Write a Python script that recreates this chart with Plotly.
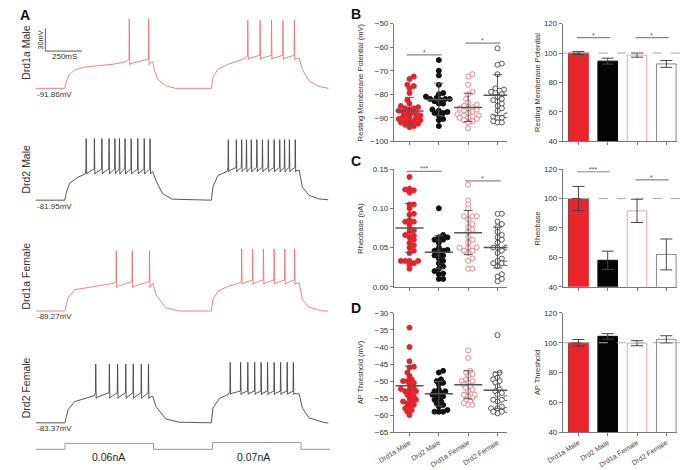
import plotly.graph_objects as go

W, H = 683, 470

def px_x(p):
    return p / W

def px_y(p):
    return 1 - p / H

FONT = "Liberation Sans, Arial, sans-serif"

# ---------------- panel A: current clamp traces (ms, mV) ----------------
trace_names = ["Drd1a Male", "Drd2 Male", "Drd1a Female", "Drd2 Female"]
trace_rmp = ["-91.86mV", "-81.95mV", "-89.27mV", "-83.37mV"]
trace_colors = ["#e8777b", "#454545", "#e8777b", "#454545"]

# Drd1a Male
d1m_knot_t = [0, 200, 211, 233, 267, 333, 533, 622, 800, 811, 833, 889, 956,
              1200, 1211, 1244, 1311, 1422, 1800, 1822, 1867, 1933, 2000]
d1m_knot_v = [-91.86, -91.86, -81.9, -73.2, -67.5, -63.6, -59.7, -56.2, -56.0, -67.0, -79.7, -88.4, -91.86,
              -91.86, -77.5, -66.7, -60.1, -52.8, -52.0, -67.0, -81.9, -89.2, -91.86]
d1m_spike_t = [640, 773, 1449, 1533, 1611, 1689, 1767]
d1m_peak = [0.5, -1.5]
d1m_thr = [-53.0, -48.0]
d1m_ahp = [-59.0, -52.0]

# Drd2 Male
d2m_knot_t = [0, 200, 211, 233, 289, 338, 800, 822, 867, 933,
              1200, 1211, 1244, 1307, 1800, 1822, 1867, 1933, 2000]
d2m_knot_v = [-81.95, -81.95, -71.1, -59.4, -51.5, -47.2, -44.0, -55.9, -73.3, -80.6,
              -81.95, -64.6, -49.3, -43.7, -42.0, -64.6, -75.4, -80.2, -81.5]
d2m_spike_t = [346, 402, 453, 502, 542, 573, 611, 653, 698, 742, 782,
               1316, 1371, 1407, 1440, 1473, 1511, 1549, 1589, 1629, 1667, 1700, 1733, 1773]
d2m_peak = [0.0, -1.5]
d2m_thr = [-40.6, -38.5]
d2m_ahp = [-45.8, -42.8]

# Drd1a Female
d1f_knot_t = [0, 200, 222, 267, 400, 533, 800, 822, 889, 978,
              1200, 1211, 1244, 1311, 1400, 1800, 1822, 1867, 1956, 2000]
d1f_knot_v = [-89.27, -89.27, -71.9, -61.0, -56.7, -52.4, -52.0, -67.5, -84.9, -89.27,
              -89.27, -74.1, -63.2, -56.7, -51.5, -52.0, -74.1, -84.1, -89.27, -89.27]
d1f_spike_t = [551, 660, 778, 1407, 1482, 1556, 1629, 1702, 1769]
d1f_peak = [-8.9, -6.7]
d1f_thr = [-50.2, -48.0]
d1f_ahp = [-56.7, -52.4]

# Drd2 Female
d2f_knot_t = [0, 200, 222, 267, 400, 800, 822, 889, 978,
              1200, 1211, 1256, 1316, 1800, 1822, 1867, 1978, 2000]
d2f_knot_v = [-83.37, -83.37, -66.0, -55.1, -47.3, -48.0, -61.6, -78.2, -82.5,
              -83.37, -63.8, -50.8, -45.6, -45.0, -63.8, -76.9, -83.37, -83.37]
d2f_spike_t = [411, 504, 560, 616, 667, 722, 771,
               1329, 1400, 1449, 1496, 1540, 1584, 1629, 1673, 1718, 1760]
d2f_peak = [-5.2, -3.0]
d2f_thr = [-43.4, -41.2]
d2f_ahp = [-49.5, -44.3]

# current command
cmd_t = [0, 200, 800, 1200, 1800, 2000]
cmd_i = [0, 0.06, 0, 0.07, 0, 0]
cmd_labels = ["0.06nA", "0.07nA"]

# ---------------- panels B-D ----------------
groups = ["Drd1a Male", "Drd2 Male", "Drd1a Female", "Drd2 Female"]

rmp_d1m = [-72.5, -73.5, -76.0, -76.5, -77.5, -79.5, -82.5, -84.0, -85.0, -85.5, -86.0, -86.0,
           -86.5, -87.0, -87.5, -88.0, -88.5, -89.0, -89.5, -90.0, -90.0, -90.5, -91.0, -91.0,
           -91.5, -92.0, -92.0, -92.5, -93.0, -93.5, -94.0, -88.0]
rmp_d2m = [-65.5, -70.0, -72.0, -76.0, -79.5, -80.0, -81.0, -81.5, -82.0, -82.0, -82.5, -83.0,
           -84.0, -84.0, -86.5, -87.0, -87.5, -88.0, -88.0, -89.0, -90.5, -91.0, -93.5, -82.0]
rmp_d1f = [-71.5, -72.5, -76.0, -79.0, -80.0, -82.0, -83.5, -84.5, -85.5, -86.0, -86.5, -87.0,
           -87.5, -88.0, -88.5, -89.0, -89.0, -89.5, -90.0, -90.0, -90.5, -91.0, -91.5, -92.0,
           -85.0, -86.0, -94.5]
rmp_d2f = [-60.5, -67.0, -67.5, -71.5, -77.5, -78.0, -78.5, -79.0, -79.5, -80.0, -81.0, -82.0,
           -82.5, -83.0, -84.0, -85.0, -86.0, -87.0, -89.0, -89.5, -90.0, -90.0, -91.5, -92.0, -92.0]
rmp_mean = [-87.1, -82.2, -85.6, -80.4]
rmp_sd = [5.8, 6.9, 6.0, 8.7]

rheo_d1m = [0.140, 0.124, 0.125, 0.120, 0.123, 0.105, 0.105, 0.100, 0.092, 0.093, 0.085, 0.083,
            0.083, 0.080, 0.075, 0.072, 0.070, 0.066, 0.065, 0.063, 0.060, 0.056, 0.053, 0.050,
            0.046, 0.043, 0.033, 0.033, 0.033, 0.033, 0.030, 0.023, 0.028]
rheo_d2m = [0.100, 0.066, 0.063, 0.063, 0.060, 0.060, 0.056, 0.050, 0.047, 0.046, 0.046, 0.043,
            0.040, 0.040, 0.036, 0.033, 0.030, 0.026, 0.023, 0.017, 0.016, 0.010, 0.010, 0.020]
rheo_d1f = [0.130, 0.110, 0.105, 0.100, 0.090, 0.090, 0.090, 0.086, 0.080, 0.076, 0.073, 0.070,
            0.063, 0.060, 0.056, 0.050, 0.050, 0.050, 0.046, 0.046, 0.043, 0.036, 0.033, 0.023, 0.023]
rheo_d2f = [0.093, 0.093, 0.083, 0.080, 0.076, 0.070, 0.066, 0.063, 0.060, 0.056, 0.050, 0.050,
            0.050, 0.046, 0.043, 0.036, 0.033, 0.030, 0.030, 0.030, 0.026, 0.016, 0.013, 0.010, 0.007]
rheo_mean = [0.075, 0.044, 0.069, 0.050]
rheo_sd = [0.031, 0.021, 0.028, 0.026]

apt_d1m = [-34.3, -40.0, -44.2, -45.8, -46.0, -47.5, -48.5, -49.5, -50.0, -50.5, -51.0, -52.0,
           -52.3, -52.5, -53.0, -53.5, -54.0, -54.5, -55.0, -55.5, -56.0, -56.0, -56.5, -57.0,
           -57.5, -58.0, -58.5, -59.0, -60.0, -50.0, -53.0]
apt_d2m = [-47.0, -47.5, -49.5, -50.0, -50.5, -51.0, -52.5, -53.0, -53.5, -54.0, -54.0, -54.5,
           -55.0, -55.5, -56.0, -56.5, -57.0, -57.5, -58.5, -59.0, -59.0, -59.0, -53.0]
apt_d1f = [-41.0, -43.2, -47.0, -47.5, -48.0, -48.5, -49.5, -50.0, -50.0, -50.5, -51.0, -51.5,
           -52.0, -52.5, -53.0, -54.0, -54.0, -54.5, -55.0, -55.5, -56.0, -57.0, -57.0, -56.5]
apt_d2f = [-36.5, -47.5, -48.0, -49.0, -49.5, -50.0, -50.5, -51.5, -52.5, -53.0, -53.5, -54.0,
           -55.0, -55.5, -56.0, -57.5, -58.0, -58.0, -58.5, -59.0, -59.5, -59.0, -55.5]
apt_mean = [-51.4, -53.7, -51.1, -52.7]
apt_sd = [5.8, 3.6, 4.1, 5.3]

# normalised bars (% of Drd1a Male)
rmp_pct = [100.0, 94.5, 98.6, 92.6]
rmp_pct_err = [1.0, 2.0, 1.4, 2.3]
rheo_pct = [100.0, 58.0, 91.6, 62.0]
rheo_pct_err = [8.2, 6.2, 7.9, 10.5]
apt_pct = [100.0, 104.3, 99.7, 102.3]
apt_pct_err = [2.2, 1.8, 1.7, 2.4]

# significance: (group a, group b, height, label)
sig_rmp = [(0, 1, -63.3, "*"), (2, 3, -58.3, "*")]
sig_rmp_pct = [(0, 1, 110.5, "*"), (2, 3, 110.5, "*")]
sig_rheo = [(0, 1, 0.147, "***"), (2, 3, 0.135, "*")]
sig_rheo_pct = [(0, 1, 118.2, "***"), (2, 3, 112.6, "*")]

pt_fill = ["#e3262c", "#111111", "white", "white"]
pt_line = ["#e3262c", "#111111", "#e8868c", "#555555"]
bar_fill = ["#e8252b", "#050505", "white", "white"]
bar_line = ["#b8282c", "#050505", "#e4a3a7", "#8a8a8a"]


def build_trace(knot_t, knot_v, spike_t, peak, thr, ahp):
    pts = list(zip(knot_t, knot_v))
    for s in spike_t:
        k = 0 if s < 1000 else 1
        pts += [(s - 2, thr[k]), (s, peak[k]), (s + 3, ahp[k] - 1.5), (s + 7, ahp[k])]
    pts.sort()
    return [p[0] for p in pts], [p[1] for p in pts]


def swarm(vals, px_per_unit, d=4.4, px_per_cat=30.0):
    # simple beeswarm offsets, like a GraphPad scatter dot plot
    placed = []
    offs = [0.0] * len(vals)
    order = sorted(range(len(vals)), key=lambda i: vals[i])
    for i in order:
        y = vals[i] * px_per_unit
        best = None
        k = 0
        while best is None:
            cands = [0.0] if k == 0 else [-k * d / 2, k * d / 2]
            if k % 2 == 0:
                cands = cands[::-1]
            for x in cands:
                if all((x - a) ** 2 + (y - b) ** 2 >= d * d * 0.8 for a, b in placed):
                    best = x
                    break
            k += 1
        placed.append((best, y))
        offs[i] = best / px_per_cat
    return offs


def note(px, py, text, size, angle=0, xanchor="center", color="#333"):
    return dict(x=px_x(px), y=px_y(py), xref="paper", yref="paper", text=text,
                textangle=angle, showarrow=False, xanchor=xanchor, yanchor="middle",
                font=dict(size=size, color=color))


fig = go.Figure()
layout_axes = {}
shapes = []
annotations = []

# ---- panel A ----
raw = [
    (d1m_knot_t, d1m_knot_v, d1m_spike_t, d1m_peak, d1m_thr, d1m_ahp),
    (d2m_knot_t, d2m_knot_v, d2m_spike_t, d2m_peak, d2m_thr, d2m_ahp),
    (d1f_knot_t, d1f_knot_v, d1f_spike_t, d1f_peak, d1f_thr, d1f_ahp),
    (d2f_knot_t, d2f_knot_v, d2f_spike_t, d2f_peak, d2f_thr, d2f_ahp),
]
base_rows = [86, 200, 313, 427]   # pixel row of each resting baseline
label_rows = [50, 168, 277, 391]
px_per_mv = 23 / 30.0
for i, r in enumerate(raw):
    n = i + 1
    t, v = build_trace(*r)
    base = r[1][0]
    top = base_rows[i] - (10 - base) * px_per_mv
    bot = base_rows[i] + (base + 100) * px_per_mv
    layout_axes["xaxis" if n == 1 else f"xaxis{n}"] = dict(
        domain=[px_x(20), px_x(320)], range=[0, 2000], visible=False, anchor=f"y{n}")
    layout_axes["yaxis" if n == 1 else f"yaxis{n}"] = dict(
        domain=[px_y(bot), px_y(top)], range=[-100, 10], visible=False, anchor=f"x{n}")
    fig.add_trace(go.Scatter(x=t, y=v, mode="lines", line=dict(color=trace_colors[i], width=0.9),
                             xaxis=f"x{n}", yaxis=f"y{n}", hoverinfo="skip"))
    annotations.append(note(10, label_rows[i], trace_names[i], 10.5, angle=-90))
    annotations.append(note(19, base_rows[i] + 6, trace_rmp[i], 8, xanchor="left"))

# scale bar (30 mV, 250 ms) in first trace axis
sb_t0, sb_v0 = 67, -42.3
shapes.append(dict(type="line", xref="x", yref="y", x0=sb_t0, x1=sb_t0, y0=sb_v0, y1=sb_v0 + 30,
                   line=dict(color="#555", width=1)))
shapes.append(dict(type="line", xref="x", yref="y", x0=sb_t0, x1=sb_t0 + 250, y0=sb_v0, y1=sb_v0,
                   line=dict(color="#555", width=1)))
annotations.append(note(25, 36, "30mV", 7.5, angle=-90))
annotations.append(note(50, 54, "250mS", 8))

# command trace
layout_axes["xaxis5"] = dict(domain=[px_x(20), px_x(322)], range=[0, 2000], visible=False, anchor="y5")
layout_axes["yaxis5"] = dict(domain=[px_y(455), px_y(445)], range=[-0.01, 0.09], visible=False, anchor="x5")
fig.add_trace(go.Scatter(x=cmd_t, y=cmd_i, mode="lines", line=dict(color="#999", width=1, shape="hv"),
                         xaxis="x5", yaxis="y5", hoverinfo="skip"))
for lab, cx in zip(cmd_labels, [95, 243]):
    annotations.append(note(cx, 462, lab, 10.5, color="#222"))

# ---- panels B-D ----
panel_rows = [(20, 140), (168.3, 288.3), (315, 436.5)]
scatter_sets = [
    ([rmp_d1m, rmp_d2m, rmp_d1f, rmp_d2f], rmp_mean, rmp_sd, [-100, -50],
     [-100, -90, -80, -70, -60, -50], None, "Resting Memberane Potential (mV)", sig_rmp),
    ([rheo_d1m, rheo_d2m, rheo_d1f, rheo_d2f], rheo_mean, rheo_sd, [0, 0.15],
     [0, 0.05, 0.10, 0.15], ".2f", "Rheobase (nA)", sig_rheo),
    ([apt_d1m, apt_d2m, apt_d1f, apt_d2f], apt_mean, apt_sd, [-65, -30],
     [-65, -60, -55, -50, -45, -40, -35, -30], None, "AP Threshold (mV)", []),
]
bar_sets = [
    (rmp_pct, rmp_pct_err, "Resting Memberane Potential", sig_rmp_pct),
    (rheo_pct, rheo_pct_err, "Rheobase", sig_rheo_pct),
    (apt_pct, apt_pct_err, "AP Threshold", []),
]
letters = ["B", "C", "D"]
letter_rows = [10, 160, 310]


def style_axes(n, xdom, ydom, yrange, tickvals, fmt, last_row, xmax):
    xa = dict(domain=xdom, range=[-0.53, xmax], anchor=f"y{n}", tickvals=[0, 1, 2, 3],
              ticktext=groups, showticklabels=last_row, tickangle=-32,
              tickfont=dict(size=7, color="#444", family=FONT),
              ticks="outside", ticklen=3, tickcolor="#777", showline=True, linecolor="#777",
              linewidth=1, showgrid=False, zeroline=False, fixedrange=True)
    ya = dict(domain=ydom, range=yrange, anchor=f"x{n}", tickvals=tickvals, tickformat=fmt,
              tickfont=dict(size=8, color="#333", family=FONT), ticks="outside", ticklen=3,
              tickcolor="#777", showline=True, linecolor="#777", linewidth=1, showgrid=False,
              zeroline=False, fixedrange=True)
    layout_axes[f"xaxis{n}"] = xa
    layout_axes[f"yaxis{n}"] = ya


for p in range(3):
    y0, y1 = panel_rows[p]
    ydom = [px_y(y1), px_y(y0)]
    last = p == 2
    # scatter dot plot
    n = 6 + 2 * p
    sets, means, sds, yr, tv, fmt, title, sigs = scatter_sets[p]
    style_axes(n, [px_x(387), px_x(503)], ydom, yr, tv, fmt, last, 3.33)
    ppu = (y1 - y0) / (yr[1] - yr[0])
    for g, vals in enumerate(sets):
        offs = swarm(vals, ppu)
        fig.add_trace(go.Scatter(
            x=[g + o for o in offs], y=vals, mode="markers",
            marker=dict(size=5, color=pt_fill[g], line=dict(color=pt_line[g], width=1)),
            xaxis=f"x{n}", yaxis=f"y{n}", hoverinfo="skip"))
    for g in range(4):
        fig.add_trace(go.Scatter(
            x=[g], y=[means[g]], mode="markers",
            marker=dict(symbol="line-ew", size=20, line=dict(color="#555", width=1.5)),
            error_y=dict(type="data", array=[sds[g]], color="#555", thickness=1, width=4.5),
            xaxis=f"x{n}", yaxis=f"y{n}", hoverinfo="skip"))
    for a, b, h, lab in sigs:
        shapes.append(dict(type="line", xref=f"x{n}", yref=f"y{n}", x0=a - 0.1, x1=b + 0.1,
                           y0=h, y1=h, line=dict(color="#888", width=1.2)))
        annotations.append(dict(x=(a + b) / 2, y=h, xref=f"x{n}", yref=f"y{n}", text=lab,
                                showarrow=False, xanchor="center", yanchor="bottom", yshift=-3,
                                font=dict(size=7, color="#555")))
    annotations.append(note(353, (y0 + y1) / 2, title, 7.5, angle=-90))
    annotations.append(note(341, letter_rows[p], f"<b>{letters[p]}</b>", 14, xanchor="left", color="#111"))

    # normalised bars
    n = 7 + 2 * p
    vals, errs, title, sigs = bar_sets[p]
    style_axes(n, [px_x(560), px_x(677)], ydom, [40, 120], [40, 60, 80, 100, 120], None, last, 3.37)
    fig.add_trace(go.Bar(
        x=[0, 1, 2, 3], y=vals, width=0.67,
        marker=dict(color=bar_fill, line=dict(color=bar_line, width=1)),
        error_y=dict(type="data", array=errs, color="#444", thickness=1, width=6),
        xaxis=f"x{n}", yaxis=f"y{n}", hoverinfo="skip"))
    shapes.append(dict(type="line", xref="paper", yref=f"y{n}", x0=px_x(560), x1=1,
                       y0=100, y1=100, line=dict(color="#aaa", width=1, dash="dash")))
    for a, b, h, lab in sigs:
        shapes.append(dict(type="line", xref=f"x{n}", yref=f"y{n}", x0=a - 0.05, x1=b + 0.08,
                           y0=h, y1=h, line=dict(color="#888", width=1.2)))
        annotations.append(dict(x=(a + b) / 2, y=h, xref=f"x{n}", yref=f"y{n}", text=lab,
                                showarrow=False, xanchor="center", yanchor="bottom", yshift=-3,
                                font=dict(size=7, color="#555")))
    annotations.append(note(534, (y0 + y1) / 2, title, 7.5, angle=-90))

annotations.append(note(2, 11, "<b>A</b>", 14, xanchor="left", color="#111"))

fig.update_layout(
    width=W, height=H,
    margin=dict(l=0, r=0, t=0, b=0),
    paper_bgcolor="white", plot_bgcolor="rgba(0,0,0,0)",
    showlegend=False,
    font=dict(family=FONT),
    shapes=shapes,
    annotations=annotations,
    **layout_axes,
)

fig.write_html("out.html", config={"displayModeBar": False},
               post_script="document.body.style.margin='0';")
